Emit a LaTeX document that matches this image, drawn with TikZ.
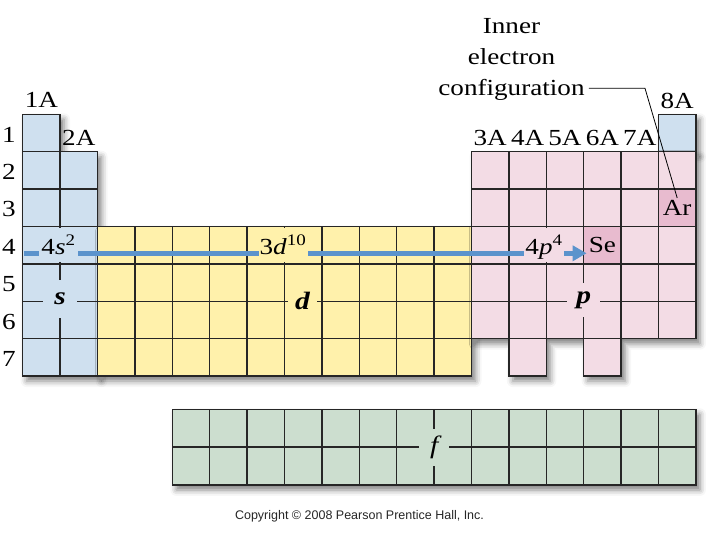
\documentclass[tikz,border=0pt]{standalone}
\usepackage{fontspec}
\setmainfont{Liberation Serif}[FakeStretch=1.18]
\newfontfamily\creditfont{Liberation Sans}
\usetikzlibrary{arrows.meta, positioning, shadows.blur}

\definecolor{sBlue}{HTML}{CFE0EF}
\definecolor{dYellow}{HTML}{FFF1AB}
\definecolor{pPink}{HTML}{F3DCE5}
\definecolor{elemPink}{HTML}{E8BBCF}
\definecolor{fGreen}{HTML}{CCDECF}
\definecolor{flowBlue}{HTML}{5B93CC}
\definecolor{gridLine}{HTML}{262626}

\newcommand{\tblX}{22.7}
\newcommand{\tblY}{114.3}
\newcommand{\cellW}{37.4}
\newcommand{\cellH}{37.4}
\newcommand{\fTop}{409.3}
\newcommand{\fH}{37.8}

\begin{document}
\begin{tikzpicture}[
    x=1pt, y=-1pt,
    cell/.style={draw=gridLine, line width=1.5pt},
    block/.style={
        blur shadow={shadow xshift=4pt, shadow yshift=-5pt, shadow blur radius=6pt, shadow opacity=50}
    },
    groupLbl/.style={anchor=base, inner sep=0pt, font=\fontsize{23}{27}\selectfont},
    periodLbl/.style={inner sep=0pt, font=\fontsize{23}{27}\selectfont},
    configLbl/.style={
        anchor=base,
        inner sep=0pt,
        text height=26pt,
        text depth=7pt,
        font=\fontsize{23}{27}\selectfont
    },
    blockLbl/.style={inner sep=0pt, font=\fontsize{25}{29}\selectfont\bfseries\itshape},
    elemLbl/.style={inner sep=2pt, font=\fontsize{23}{27}\selectfont},
    flow/.style={draw=flowBlue, line width=5pt, -{Triangle[length=14pt, width=15pt]}},
    leader/.style={draw=black, line width=0.8pt}
]

\useasboundingbox (0,0) rectangle (720,540);

% block fills with their shadows
\fill[sBlue, block] (22.7,114.3) -- (60.1,114.3) -- (60.1,151.7) -- (97.5,151.7)
    -- (97.5,376.1) -- (22.7,376.1) -- cycle;
\fill[dYellow, block] (97.5,226.5) rectangle (471.5,376.1);
\fill[sBlue, block] (658.5,114.3) rectangle (695.9,151.7);
\fill[pPink, block] (471.5,151.7) -- (695.9,151.7) -- (695.9,338.7) -- (621.1,338.7)
    -- (621.1,376.1) -- (583.7,376.1) -- (583.7,338.7) -- (546.3,338.7)
    -- (546.3,376.1) -- (508.9,376.1) -- (508.9,338.7) -- (471.5,338.7) -- cycle;
\fill[fGreen, block] (172.3,\fTop) rectangle (695.9,{\fTop+2*\fH});

% highlighted elements
\fill[elemPink] ({\tblX+17*\cellW},{\tblY+2*\cellH}) rectangle ++(\cellW,\cellH);
\fill[elemPink] ({\tblX+15*\cellW},{\tblY+3*\cellH}) rectangle ++(\cellW,\cellH);

% grid of cells
\foreach \r in {1,...,7}
    \draw[cell] (\tblX,{\tblY+(\r-1)*\cellH}) rectangle ++(\cellW,\cellH);
\foreach \r in {2,...,7}
    \draw[cell] ({\tblX+\cellW},{\tblY+(\r-1)*\cellH}) rectangle ++(\cellW,\cellH);
\foreach \c in {3,...,12}
    \foreach \r in {4,...,7}
        \draw[cell] ({\tblX+(\c-1)*\cellW},{\tblY+(\r-1)*\cellH}) rectangle ++(\cellW,\cellH);
\foreach \c in {13,...,18}
    \foreach \r in {2,...,6}
        \draw[cell] ({\tblX+(\c-1)*\cellW},{\tblY+(\r-1)*\cellH}) rectangle ++(\cellW,\cellH);
\foreach \c in {14,16}
    \draw[cell] ({\tblX+(\c-1)*\cellW},{\tblY+6*\cellH}) rectangle ++(\cellW,\cellH);
\draw[cell] ({\tblX+17*\cellW},\tblY) rectangle ++(\cellW,\cellH);
\foreach \c in {5,...,18}
    \foreach \r in {1,2}
        \draw[cell] ({\tblX+(\c-1)*\cellW},{\fTop+(\r-1)*\fH}) rectangle ++(\cellW,\fH);

% group and period labels
\node[groupLbl] (g1A) at (41.4,107.8) {1A};
\node[groupLbl] (g2A) at (78.8,145.5) {2A};
\foreach \g [count=\i from 13] in {3A,4A,5A,6A,7A}
    \node[groupLbl] (g\g) at ({\tblX+(\i-0.5)*\cellW},145.5) {\g};
\node[groupLbl] (g8A) at (677.2,108.3) {8A};
\foreach \r in {1,...,7}
    \node[periodLbl] (per\r) at (9,{\tblY+(\r-0.5)*\cellH+1.5}) {\r};

% element symbols
\node[elemLbl] (arText) at (677.2,207.8) {Ar};
\node[elemLbl] (seText) at (602.4,245.2) {Se};

% filling order arrow
\coordinate (flowStart) at (24,253.3);
\draw[flow] (flowStart) -- (flowStart -| seText.west);

\node[configLbl, fill=sBlue, minimum width=39pt] (s2Lbl) at (58.5,254.5)
    {4\textit{s}\textsuperscript{2}};
\node[configLbl, fill=dYellow, minimum width=49pt] (d10Lbl) at (283,254.5)
    {3\textit{d}\textsuperscript{10}};
\node[configLbl, fill=pPink, minimum width=40.6pt] (p4Lbl) at (544,254.5)
    {4\textit{p}\textsuperscript{4}};

% block names
\node[blockLbl, fill=sBlue, minimum width=34pt, minimum height=38pt] (sLbl) at (60.1,299) {s};
\node[blockLbl, fill=dYellow, minimum width=29pt, minimum height=34pt] (dLbl) at (302.5,301.3) {d};
\node[blockLbl, fill=pPink, minimum width=33pt, minimum height=34pt] (pLbl) at (583.7,300) {p};
\node[blockLbl, fill=fGreen, minimum width=30pt, minimum height=37pt,
    font=\fontsize{25}{29}\selectfont\itshape] (fLbl) at (434.1,447.1) {f};

% inner configuration callout
\node[align=center, inner xsep=4pt, inner ysep=0pt, font=\fontsize{23}{31.2}\selectfont]
    (innerCfg) at (511.5,59.4) {Inner\\electron\\configuration};
\coordinate (leaderBend) at (645,88.3);
\draw[leader] (innerCfg.east |- leaderBend) -- (leaderBend) -- (arText.north);

\node[font=\creditfont\fontsize{12.5}{15}\selectfont, text=black!85] (credit) at (359.5,516)
    {Copyright \textcopyright{} 2008 Pearson Prentice Hall, Inc.};

\end{tikzpicture}
\end{document}
